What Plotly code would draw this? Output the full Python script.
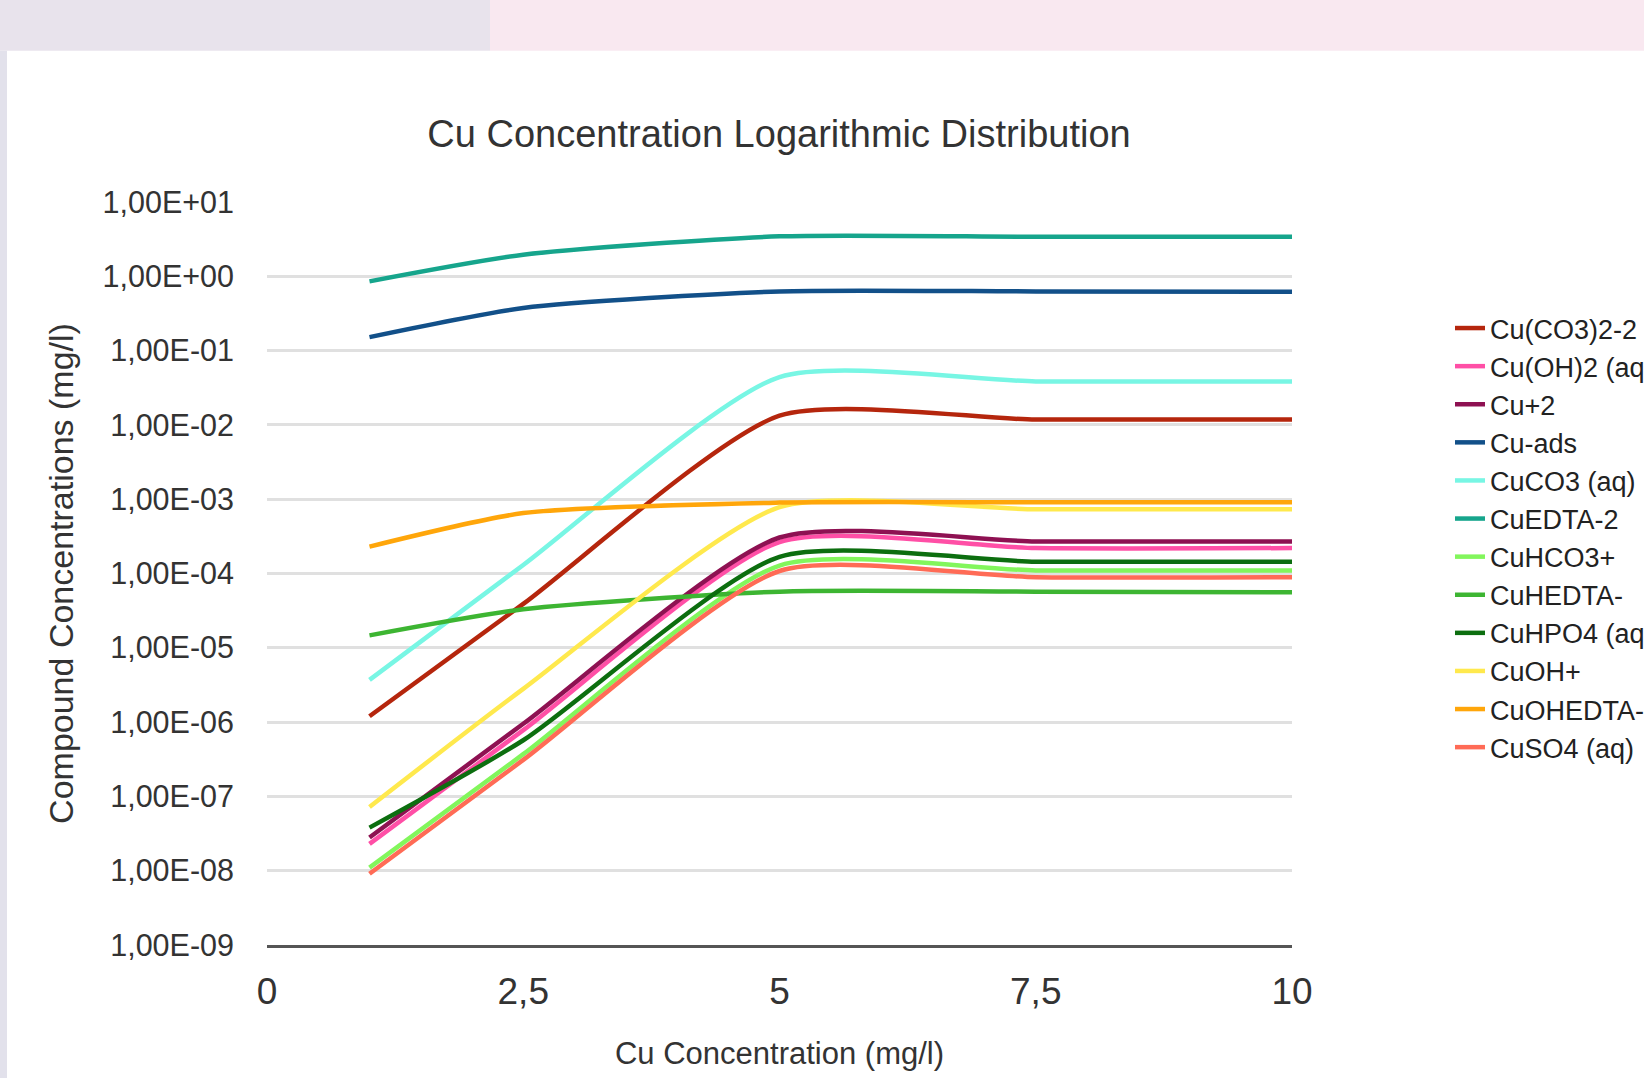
import plotly.graph_objects as go

# ---------------- data ----------------
cu_conc = [1, 2.5, 5, 7.5, 10]

series_names = ["Cu(CO3)2-2", "Cu(OH)2 (aq)", "Cu+2", "Cu-ads", "CuCO3 (aq)", "CuEDTA-2",
                "CuHCO3+", "CuHEDTA-", "CuHPO4 (aq)", "CuOH+", "CuOHEDTA-3", "CuSO4 (aq)"]

cu_co3_2 = [1.2e-6, 3.9e-5, 1.33e-2, 1.18e-2, 1.18e-2]
cu_oh_2 = [2.3e-8, 7.8e-7, 2.65e-4, 2.2e-4, 2.2e-4]
cu_plus2 = [2.8e-8, 9.5e-7, 3.05e-4, 2.7e-4, 2.7e-4]
cu_ads = [0.152, 0.374, 0.626, 0.626, 0.62]
cuco3 = [3.7e-6, 1.3e-4, 4.4e-2, 3.85e-2, 3.85e-2]
cuedta = [0.855, 1.95, 3.45, 3.4, 3.4]
cuhco3 = [1.1e-8, 3.7e-7, 1.28e-4, 1.1e-4, 1.1e-4]
cuhedta = [1.47e-5, 3.3e-5, 5.7e-5, 5.7e-5, 5.6e-5]
cuhpo4 = [3.8e-8, 5.7e-7, 1.67e-4, 1.44e-4, 1.44e-4]
cuoh = [7.2e-8, 2.8e-6, 7.8e-4, 7.3e-4, 7.3e-4]
cuohedta = [2.3e-4, 6.5e-4, 9.0e-4, 9.1e-4, 9.1e-4]
cuso4 = [9.1e-9, 3.1e-7, 1.08e-4, 8.9e-5, 8.9e-5]

series_values = [cu_co3_2, cu_oh_2, cu_plus2, cu_ads, cuco3, cuedta,
                 cuhco3, cuhedta, cuhpo4, cuoh, cuohedta, cuso4]

x_tick_vals = [0, 2.5, 5, 7.5, 10]
x_tick_text = ["0", "2,5", "5", "7,5", "10"]
y_tick_vals = [1e1, 1e0, 1e-1, 1e-2, 1e-3, 1e-4, 1e-5, 1e-6, 1e-7, 1e-8, 1e-9]
y_tick_text = ["1,00E+01", "1,00E+00", "1,00E-01", "1,00E-02", "1,00E-03", "1,00E-04",
               "1,00E-05", "1,00E-06", "1,00E-07", "1,00E-08", "1,00E-09"]

colors = ["#b5260d", "#ff4fa6", "#8e1152", "#125089", "#78f6e4", "#16a58c",
          "#82f65c", "#3db532", "#0c6e0f", "#ffe94d", "#ffa60a", "#ff6b56"]

# ---------------- layout geometry ----------------
W, H = 1644, 1078
L, R, T, B = 267, 1292, 202, 945  # plot area in px
pw, ph = R - L, B - T


def px_x(p):
    return (p - L) / pw


def px_y(p):
    return (B - p) / ph


FONT = "Liberation Sans, Arial, Helvetica, sans-serif"

fig = go.Figure()
for name, vals, col in zip(series_names, series_values, colors):
    fig.add_trace(go.Scatter(
        x=cu_conc, y=vals, name=name, mode="lines",
        line=dict(color=col, width=4.5, shape="spline", smoothing=0.65),
    ))

shapes = [
    # top strip (left lavender part and right pink part)
    dict(type="rect", xref="paper", yref="paper", x0=px_x(0), x1=px_x(490),
         y0=px_y(50.7), y1=px_y(0), fillcolor="#e8e3ec", line_width=0, layer="below"),
    dict(type="rect", xref="paper", yref="paper", x0=px_x(490), x1=px_x(W),
         y0=px_y(50.7), y1=px_y(0), fillcolor="#f9e8f0", line_width=0, layer="below"),
    # left strip
    dict(type="rect", xref="paper", yref="paper", x0=px_x(0), x1=px_x(7),
         y0=px_y(H), y1=px_y(50.7), fillcolor="#e2e1eb", line_width=0, layer="below"),
]

fig.update_layout(
    width=W, height=H,
    margin=dict(l=L, r=W - R, t=T, b=H - B, autoexpand=False),
    paper_bgcolor="white", plot_bgcolor="white",
    font=dict(family=FONT, color="#333333", size=30),
    title=dict(text="Cu Concentration Logarithmic Distribution",
               x=779 / W, xanchor="center",
               y=1 - 134 / H, yanchor="middle",
               font=dict(size=38, color="#333333", family=FONT)),
    showlegend=True,
    legend=dict(x=px_x(1450), xanchor="left", y=px_y(304), yanchor="top",
                font=dict(size=27, color="#222222", family=FONT),
                bgcolor="rgba(0,0,0,0)", tracegroupgap=0, itemwidth=30),
    shapes=shapes,
    xaxis=dict(range=[0, 10], tickmode="array", tickvals=x_tick_vals, ticktext=x_tick_text,
               showgrid=False, zeroline=False, showline=True, linecolor="#555555", linewidth=3,
               ticks="", ticklabelstandoff=12,
               tickfont=dict(size=37, color="#333333", family=FONT),
               title=dict(text="Cu Concentration (mg/l)", standoff=31,
                          font=dict(size=31, color="#333333", family=FONT))),
    yaxis=dict(type="log", range=[-9, 1], tickmode="array", tickvals=y_tick_vals, ticktext=y_tick_text,
               showgrid=True, gridcolor="#e0e0e0", gridwidth=2.5, zeroline=False, showline=False,
               ticks="", ticklabelstandoff=32,
               tickfont=dict(size=30.5, color="#333333", family=FONT),
               title=dict(text="Compound Concentrations (mg/l)", standoff=18,
                          font=dict(size=34, color="#333333", family=FONT))),
)

fig.write_html("out.html", config={"displayModeBar": False},
               post_script="document.body.style.margin='0';")
